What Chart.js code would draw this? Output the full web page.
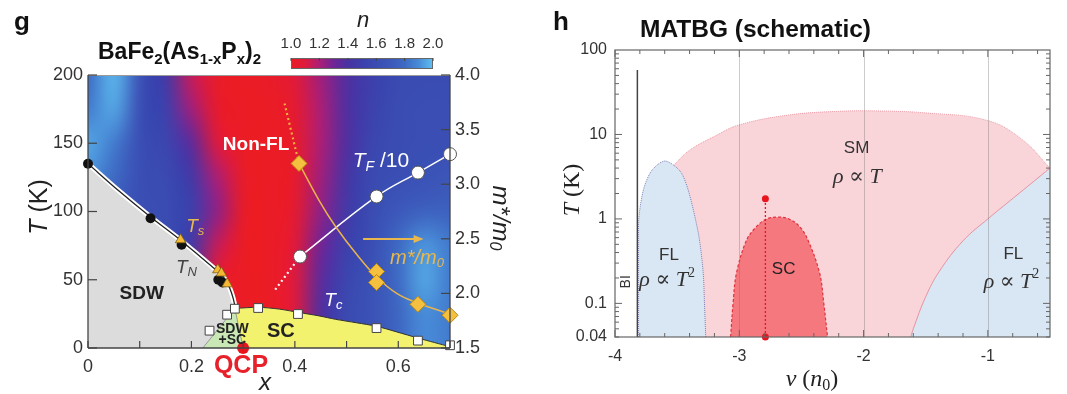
<!DOCTYPE html>
<html><head><meta charset="utf-8">
<script src="https://cdn.jsdelivr.net/npm/chart.js@4.4.0/dist/chart.umd.min.js"></script>
<style>
html,body{margin:0;padding:0;background:#fff;}
#wrap{position:relative;width:1067px;height:394px;overflow:hidden;background:#fff;}
canvas{position:absolute;top:0;}
#g{left:0;} #h{left:540px;}
</style></head><body>
<div id="wrap"><canvas id="g" width="540" height="394"></canvas><canvas id="h" width="527" height="394"></canvas></div>
<script>
// ================= Panel g : BaFe2(As1-xPx)2 =================
const heatX = [0,0.05,0.1,0.15,0.2,0.25,0.3,0.35,0.4,0.45,0.5,0.55,0.6,0.65,0.7];
const heatT = [0,25,50,75,100,125,150,175,200];
const heatN0   = [1.70,1.70,1.65,1.60,1.40,1.05,1.00,1.00,1.10,1.38,1.58,1.65,1.78,1.90,1.85];
const heatN25  = [1.70,1.70,1.65,1.60,1.40,1.05,1.00,1.00,1.10,1.38,1.58,1.65,1.78,1.90,1.85];
const heatN50  = [1.70,1.70,1.65,1.60,1.35,1.05,1.00,1.00,1.10,1.35,1.55,1.65,1.80,1.95,1.85];
const heatN75  = [1.70,1.70,1.65,1.60,1.45,1.15,1.00,1.00,1.08,1.30,1.50,1.62,1.80,1.92,1.85];
const heatN100 = [1.70,1.70,1.62,1.60,1.50,1.25,1.02,1.00,1.05,1.25,1.45,1.60,1.70,1.75,1.75];
const heatN125 = [1.90,1.80,1.62,1.58,1.45,1.20,1.02,1.00,1.03,1.22,1.42,1.58,1.62,1.65,1.68];
const heatN150 = [1.95,1.85,1.62,1.55,1.35,1.10,1.00,1.00,1.03,1.20,1.38,1.55,1.60,1.62,1.62];
const heatN175 = [1.85,1.95,1.62,1.50,1.22,1.03,1.00,1.00,1.05,1.20,1.38,1.52,1.60,1.62,1.62];
const heatN200 = [1.80,1.98,1.65,1.45,1.15,1.02,1.00,1.02,1.08,1.22,1.38,1.50,1.58,1.60,1.60];
const heatN = [heatN0,heatN25,heatN50,heatN75,heatN100,heatN125,heatN150,heatN175,heatN200];

const tnLineX = [0,0.06,0.121,0.179,0.22,0.245,0.262,0.274,0.281,0.285];
const tnLineT = [135,115,96,79,66,58,52,44,36,29];
const tnDotX = [0,0.121,0.181,0.252,0.26];
const tnDotT = [135,95,75.6,50,48];
const tsX = [0.179,0.251,0.258,0.269];
const tsT = [79.3,57.3,54.9,47];
const tcX = [0.235,0.269,0.284,0.329,0.406,0.558,0.638,0.70];
const tcT = [12.7,24.4,28.8,29.3,24.9,14.6,5.4,2];
const scEdgeX = [0.284,0.329,0.37,0.408,0.447,0.479,0.519,0.558,0.597,0.638,0.67,0.70];
const scEdgeT = [29,29.8,28.5,26,23.5,21,18.5,15.9,11.8,7.3,4,1];
const mixX = [0.222,0.284,0.30];
const mixT = [0,29,0];
const tfX = [0.41,0.558,0.638,0.70];
const tfT = [67,111,128.5,142];
const tfDashX = [0.362,0.41];
const tfDashT = [42.7,67];
const mX = [0.408,0.558,0.558,0.638,0.70];
const mV = [3.19,2.20,2.10,1.90,1.80];
const mFitX = [0.408,0.447,0.479,0.519,0.558,0.597,0.638,0.675,0.70];
const mFitV = [3.19,2.85,2.61,2.36,2.15,2.0,1.91,1.85,1.81];
const mDashX = [0.38,0.408];
const mDashV = [3.74,3.19];
const qcpX = [0.30];
const qcpT = [0];
const xTicksG = [0,0.1,0.2,0.3,0.4,0.5,0.6,0.7];
const xLabelsG = ['0','','0.2','','0.4','','0.6',''];
const yTicksG = [0,50,100,150,200];
const y2TicksG = [1.5,2.0,2.5,3.0,3.5,4.0];
const cbarTicks = [1.0,1.2,1.4,1.6,1.8,2.0];

// ================= Panel h : MATBG (schematic) =================
const smNu = [-3.53,-3.4,-3.2,-3.0,-2.6,-2.2,-1.9,-1.5,-1.0,-0.72,-0.5];
const smT  = [4.3,6.5,9.5,13,17,18.8,19,18,14.6,8.6,4.0];
const flLNu = [-3.81,-3.81,-3.807,-3.772,-3.719,-3.665,-3.598,-3.526,-3.464,-3.411,-3.357,-3.32,-3.29,-3.28,-3.27];
const flLT  = [0.04,0.56,1.06,2.2,3.47,4.3,4.85,4.3,3.47,2.2,1.06,0.56,0.227,0.1,0.04];
const flRNu = [-1.62,-1.6,-1.5,-1.39,-1.2,-1.0,-0.75,-0.5];
const flRT  = [0.04,0.05,0.12,0.24,0.55,1.0,2.0,4.0];
const scNu = [-3.07,-3.05,-3.023,-2.942,-2.862,-2.78,-2.688,-2.6,-2.514,-2.447,-2.353,-2.32,-2.29];
const scT  = [0.04,0.1,0.227,0.56,0.81,1.0,1.05,1.0,0.81,0.56,0.227,0.1,0.04];
const tcMarkNu = [-2.79,-2.79];
const tcMarkT  = [0.04,1.73];
const biNu = [-3.82,-3.82];
const biT  = [0.04,58];
const xTicksH = [-4,-3,-2,-1];
const xLabelsH = ['-4','-3','-2','-1'];
const yTicksH = [0.04,0.1,1,10,100];
const yLabelsH = ['0.04','0.1','1','10','100'];

// ================= helpers =================
const SANS = '"Liberation Sans", Arial, Helvetica, sans-serif';
const SERIF = '"Liberation Serif", "DejaVu Serif", "Times New Roman", serif';
const pts = (xs, ys) => xs.map((x, i) => ({x: x, y: ys[i]}));
const cmapN = [1.0,1.1,1.2,1.3,1.4,1.5,1.6,1.7,1.8,1.9,2.0];
const cmapRGB = [[235,28,36],[222,26,62],[172,30,118],[112,36,150],[72,50,162],[60,64,172],[58,76,178],[60,88,186],[62,106,196],[72,140,216],[96,192,240]];
function cmap(n){
  if (n <= cmapN[0]) return cmapRGB[0];
  for (let i = 1; i < cmapN.length; i++){
    if (n <= cmapN[i]){
      const f = (n - cmapN[i-1]) / (cmapN[i] - cmapN[i-1]);
      const a = cmapRGB[i-1], b = cmapRGB[i];
      return [a[0]+(b[0]-a[0])*f, a[1]+(b[1]-a[1])*f, a[2]+(b[2]-a[2])*f];
    }
  }
  return cmapRGB[cmapRGB.length-1];
}
function runs(ctx, parts, x, y, align){
  let w = 0;
  parts.forEach(p => { ctx.font = p.f; p.w = ctx.measureText(p.t).width; w += p.w; });
  let cx = align === 'center' ? x - w/2 : (align === 'right' ? x - w : x);
  ctx.textAlign = 'left';
  parts.forEach(p => { ctx.font = p.f; if (p.c) ctx.fillStyle = p.c; ctx.fillText(p.t, cx, y + (p.dy || 0)); cx += p.w; });
}
function line(ctx, x1, y1, x2, y2){ ctx.beginPath(); ctx.moveTo(x1, y1); ctx.lineTo(x2, y2); ctx.stroke(); }

// ================= panel g plugins =================
const heatPlugin = {
  id: 'heat',
  beforeDatasetsDraw(chart){
    const {ctx, chartArea: a, scales} = chart;
    const xs = scales.x, ys = scales.y;
    const nc = heatX.length, nr = heatT.length;
    const off = document.createElement('canvas');
    off.width = nc; off.height = nr;
    const octx = off.getContext('2d');
    const img = octx.createImageData(nc, nr);
    for (let r = 0; r < nr; r++){
      const row = heatN[r];
      const ir = nr - 1 - r;
      for (let c = 0; c < nc; c++){
        const col = cmap(row[c]);
        const k = (ir * nc + c) * 4;
        img.data[k] = col[0]; img.data[k+1] = col[1]; img.data[k+2] = col[2]; img.data[k+3] = 255;
      }
    }
    octx.putImageData(img, 0, 0);
    const x0 = xs.getPixelForValue(heatX[0]), x1 = xs.getPixelForValue(heatX[nc-1]);
    const y0 = ys.getPixelForValue(heatT[nr-1]), y1 = ys.getPixelForValue(heatT[0]);
    ctx.save();
    ctx.beginPath(); ctx.rect(a.left, a.top, a.right - a.left, a.bottom - a.top); ctx.clip();
    ctx.imageSmoothingEnabled = true; ctx.imageSmoothingQuality = 'high';
    ctx.drawImage(off, 0.5, 0.5, nc - 1, nr - 1, x0, y0, x1 - x0, y1 - y0);
    ctx.restore();
  }
};

const decorG = {
  id: 'decorG',
  afterDatasetsDraw(chart){
    const {ctx, chartArea: a, scales} = chart;
    const X = v => scales.x.getPixelForValue(v);
    const Y = v => scales.y.getPixelForValue(v);
    ctx.save();
    ctx.textBaseline = 'middle';
    runs(ctx, [{t:'Non-FL', f:'bold 19px '+SANS, c:'#ffffff'}], X(0.325), Y(148.8), 'center');
    runs(ctx, [{t:'T', f:'italic 21px '+SANS, c:'#ffffff'}, {t:'F', f:'italic 14px '+SANS, dy:6}, {t:' /10', f:'21px '+SANS}], X(0.512), Y(137), 'left');
    runs(ctx, [{t:'T', f:'italic 19px '+SANS, c:'#e8b74e'}, {t:'s', f:'italic 13px '+SANS, dy:5}], X(0.19), Y(89), 'left');
    runs(ctx, [{t:'T', f:'italic 19px '+SANS, c:'#444444'}, {t:'N', f:'italic 13px '+SANS, dy:5}], X(0.17), Y(59), 'left');
    runs(ctx, [{t:'SDW', f:'bold 19px '+SANS, c:'#222222'}], X(0.104), Y(40), 'center');
    runs(ctx, [{t:'SDW', f:'bold 14px '+SANS, c:'#222222'}], X(0.279), Y(14), 'center');
    runs(ctx, [{t:'+SC', f:'bold 14px '+SANS, c:'#222222'}], X(0.279), Y(5.4), 'center');
    runs(ctx, [{t:'SC', f:'bold 20px '+SANS, c:'#222222'}], X(0.373), Y(12.2), 'center');
    runs(ctx, [{t:'T', f:'italic 19px '+SANS, c:'#ffffff'}, {t:'c', f:'italic 13px '+SANS, dy:5}], X(0.457), Y(35), 'left');
    ctx.save();
    ctx.beginPath(); ctx.rect(a.left, a.top, a.right - a.left, a.bottom - a.top); ctx.clip();
    runs(ctx, [{t:'m*/m', f:'italic 20px '+SANS, c:'#e8b74e'}, {t:'0', f:'italic 13px '+SANS, dy:5}], X(0.584), Y(65.9), 'left');
    ctx.restore();
    ctx.strokeStyle = '#e8b74e'; ctx.fillStyle = '#e8b74e'; ctx.lineWidth = 2;
    const ax1 = X(0.532), ax2 = X(0.649), ay = Y(79.8);
    line(ctx, ax1, ay, ax2 - 6, ay);
    ctx.beginPath(); ctx.moveTo(ax2, ay); ctx.lineTo(ax2 - 10, ay - 4); ctx.lineTo(ax2 - 10, ay + 4); ctx.closePath(); ctx.fill();
    ctx.strokeStyle = '#9a9a9a'; ctx.lineWidth = 1;
    line(ctx, a.left, a.top + 0.5, a.right, a.top + 0.5);
    ctx.strokeStyle = '#444'; ctx.lineWidth = 1.3;
    line(ctx, a.left, a.top, a.left, a.bottom);
    line(ctx, a.right, a.top, a.right, a.bottom);
    line(ctx, a.left, a.bottom, a.right, a.bottom);
    ctx.lineWidth = 1.2;
    yTicksG.forEach(v => line(ctx, a.left, Y(v), a.left + 9, Y(v)));
    y2TicksG.forEach(v => { const py = scales.y2.getPixelForValue(v); line(ctx, a.right - 9, py, a.right, py); });
    xTicksG.forEach(v => line(ctx, X(v), a.bottom, X(v), a.bottom - 7));
    ctx.restore();
  },
  afterDraw(chart){
    const {ctx} = chart;
    ctx.save();
    ctx.textBaseline = 'alphabetic';
    runs(ctx, [{t:'g', f:'bold 26px '+SANS, c:'#111'}], 14, 30, 'left');
    runs(ctx, [
      {t:'BaFe', f:'bold 23px '+SANS, c:'#111'}, {t:'2', f:'bold 15px '+SANS, dy:5},
      {t:'(As', f:'bold 23px '+SANS}, {t:'1-x', f:'bold 15px '+SANS, dy:5},
      {t:'P', f:'bold 23px '+SANS}, {t:'x', f:'bold 15px '+SANS, dy:5},
      {t:')', f:'bold 23px '+SANS}, {t:'2', f:'bold 15px '+SANS, dy:5}], 98, 59, 'left');
    const cx0 = 291, cx1 = 433, cy0 = 58, cy1 = 69;
    const grad = ctx.createLinearGradient(cx0, 0, cx1, 0);
    cmapN.forEach((n, i) => { const c = cmapRGB[i]; grad.addColorStop((n - 1) / 1, 'rgb(' + c[0] + ',' + c[1] + ',' + c[2] + ')'); });
    ctx.fillStyle = grad; ctx.fillRect(cx0, cy0, cx1 - cx0, cy1 - cy0);
    ctx.strokeStyle = '#666'; ctx.lineWidth = 1; ctx.strokeRect(cx0 + 0.5, cy0 + 0.5, cx1 - cx0 - 1, cy1 - cy0 - 1);
    ctx.fillStyle = '#333'; ctx.textBaseline = 'middle';
    cbarTicks.forEach(n => {
      const px = cx0 + (n - 1) * (cx1 - cx0);
      ctx.strokeStyle = '#444'; line(ctx, px, cy0, px, cy0 + 3);
      runs(ctx, [{t:n.toFixed(1), f:'15px '+SANS, c:'#333'}], px, 44, 'center');
    });
    runs(ctx, [{t:'n', f:'italic 22px '+SANS, c:'#222'}], 363, 21, 'center');
    ctx.save(); ctx.translate(40, 207); ctx.rotate(-Math.PI / 2);
    runs(ctx, [{t:'T', f:'italic 25px '+SANS, c:'#222'}, {t:' (K)', f:'25px '+SANS}], 0, 0, 'center');
    ctx.restore();
    ctx.save(); ctx.translate(500, 218); ctx.rotate(Math.PI / 2);
    runs(ctx, [{t:'m*/m', f:'italic 24px '+SANS, c:'#222'}, {t:'0', f:'italic 16px '+SANS, dy:6}], 0, 0, 'center');
    ctx.restore();
    runs(ctx, [{t:'x', f:'italic 24px '+SANS, c:'#222'}], 265, 383, 'center');
    runs(ctx, [{t:'QCP', f:'bold 25px '+SANS, c:'#e8202a'}], 241, 366, 'center');
    ctx.restore();
  }
};

const lineDS = (o) => Object.assign({pointRadius: 0, borderWidth: 1.5, fill: false, tension: 0}, o);
const ptDS = (o) => Object.assign({showLine: false, clip: false}, o);

new Chart(document.getElementById('g'), {
  type: 'line',
  data: { datasets: [
    ptDS({label:'QCP', data: pts(qcpX, qcpT), pointRadius: 6, pointBackgroundColor:'#e8141e', pointBorderWidth: 0, order: 0}),
    ptDS({label:'m*/m0', yAxisID:'y2', data: pts(mX, mV), pointStyle:'rectRot', pointRadius: 8, pointBackgroundColor:'#f5c040', pointBorderColor:'#b8860b', pointBorderWidth: 1, order: 1}),
    lineDS({label:'m* fit', yAxisID:'y2', data: pts(mFitX, mFitV), borderColor:'#e9b44c', tension: 0.4, order: 2}),
    lineDS({label:'m* dotted', yAxisID:'y2', data: pts(mDashX, mDashV), borderColor:'#f0b040', borderWidth: 2.2, borderDash:[2,3], order: 3}),
    ptDS({label:'TF/10', data: pts(tfX, tfT), pointRadius: 6.5, pointBackgroundColor:'#ffffff', pointBorderColor:'#555', pointBorderWidth: 1, order: 4}),
    lineDS({label:'TF line', data: pts(tfX, tfT), borderColor:'#ffffff', tension: 0.4, order: 5}),
    lineDS({label:'TF dotted', data: pts(tfDashX, tfDashT), borderColor:'#ffffff', borderWidth: 2.2, borderDash:[2,3], order: 6}),
    ptDS({label:'Ts', data: pts(tsX, tsT), pointStyle:'triangle', pointRadius: 6, pointBackgroundColor:'#f2b836', pointBorderColor:'#7a5a10', pointBorderWidth: 0.8, order: 7}),
    ptDS({label:'TN', data: pts(tnDotX, tnDotT), pointRadius: 5, pointBackgroundColor:'#111', pointBorderColor:'#111', pointBorderWidth: 0, order: 8}),
    ptDS({label:'Tc', data: pts(tcX, tcT), pointStyle:'rect', pointRadius: 6.2, pointBackgroundColor:'#ffffff', pointBorderColor:'#444', pointBorderWidth: 1, order: 9}),
    lineDS({label:'TN line', data: pts(tnLineX, tnLineT), borderColor:'#222', borderWidth: 1.3, cubicInterpolationMode:'monotone', order: 10}),
    lineDS({label:'TN halo', data: pts(tnLineX, tnLineT), borderColor:'#ffffff', borderWidth: 5, cubicInterpolationMode:'monotone', order: 11}),
    lineDS({label:'SDW+SC', data: pts(mixX, mixT), fill:'origin', backgroundColor:'#c9e8b5', borderColor:'#888', borderWidth: 0.8, order: 12}),
    lineDS({label:'SC', data: pts(scEdgeX, scEdgeT), fill:'origin', backgroundColor:'#f2f26e', borderColor:'#333', borderWidth: 1, tension: 0.3, order: 13}),
    lineDS({label:'SDW', data: pts(tnLineX, tnLineT), fill:'origin', backgroundColor:'#dcdcdc', borderWidth: 0, cubicInterpolationMode:'monotone', order: 14})
  ]},
  options: {
    responsive: false, animation: false, devicePixelRatio: 1,
    layout: { padding: { top: 75, left: 0, right: 0, bottom: 0 } },
    plugins: { legend: { display: false }, tooltip: { enabled: false } },
    scales: {
      x: { type:'linear', min: 0, max: 0.7,
        afterBuildTicks: s => { s.ticks = xTicksG.map(v => ({value: v})); },
        afterFit: s => { s.height = 46; },
        ticks: { callback: (v, i) => xLabelsG[i], font: { family: SANS, size: 18 }, color:'#333', padding: 8, maxRotation: 0, autoSkip: false },
        grid: { display: false, drawTicks: false }, border: { display: false } },
      y: { type:'linear', position:'left', min: 0, max: 200,
        afterBuildTicks: s => { s.ticks = yTicksG.map(v => ({value: v})); },
        afterFit: s => { s.width = 88; },
        ticks: { font: { family: SANS, size: 18 }, color:'#333', padding: 5 },
        grid: { display: false, drawTicks: false }, border: { display: false } },
      y2: { type:'linear', position:'right', min: 1.5, max: 4.0,
        afterBuildTicks: s => { s.ticks = y2TicksG.map(v => ({value: v})); },
        afterFit: s => { s.width = 90; },
        ticks: { callback: v => Number(v).toFixed(1), font: { family: SANS, size: 18 }, color:'#333', padding: 5 },
        grid: { display: false, drawTicks: false }, border: { display: false } }
    }
  },
  plugins: [heatPlugin, decorG]
});

// ================= panel h =================
const decorH = {
  id: 'decorH',
  afterDatasetsDraw(chart){
    const {ctx, chartArea: a, scales} = chart;
    const X = v => scales.x.getPixelForValue(v);
    const Y = v => scales.y.getPixelForValue(v);
    ctx.save();
    ctx.strokeStyle = 'rgba(110,110,110,0.35)'; ctx.lineWidth = 1;
    xTicksH.forEach(v => { if (v > -4) line(ctx, Math.round(X(v)) + 0.5, a.top, Math.round(X(v)) + 0.5, a.bottom); });
    ctx.strokeStyle = '#666'; ctx.lineWidth = 1.2;
    ctx.strokeRect(a.left, a.top, a.right - a.left, a.bottom - a.top);
    ctx.lineWidth = 1;
    for (let k = 0; k <= 17; k++){
      const v = -4 + k * 0.2;
      const major = Math.abs(v - Math.round(v)) < 1e-6;
      const L = major ? 7 : 4;
      line(ctx, X(v), a.bottom, X(v), a.bottom - L);
      line(ctx, X(v), a.top, X(v), a.top + L);
    }
    [0.01,0.1,1,10].forEach(d => {
      for (let m = 1; m <= 9; m++){
        const v = m * d;
        if (v < 0.04 || v > 100) continue;
        const L = (m === 1) ? 7 : 4;
        line(ctx, a.left, Y(v), a.left + L, Y(v));
        line(ctx, a.right, Y(v), a.right - L, Y(v));
      }
    });
    ctx.textBaseline = 'middle';
    runs(ctx, [{t:'SM', f:'17px '+SANS, c:'#333'}], X(-2.056), Y(6.9), 'center');
    runs(ctx, [{t:'\u03C1', f:'italic 22px '+SERIF, c:'#333'}, {t:' \u221D ', f:'22px '+SERIF}, {t:'T', f:'italic 22px '+SERIF}], X(-2.05), Y(3.1), 'center');
    runs(ctx, [{t:'FL', f:'17px '+SANS, c:'#333'}], X(-3.566), Y(0.374), 'center');
    runs(ctx, [{t:'\u03C1', f:'italic 22px '+SERIF, c:'#333'}, {t:' \u221D ', f:'22px '+SERIF}, {t:'T', f:'italic 22px '+SERIF}, {t:'2', f:'14px '+SERIF, dy:-7}], X(-3.58), Y(0.189), 'center');
    runs(ctx, [{t:'SC', f:'17px '+SANS, c:'#222'}], X(-2.643), Y(0.255), 'center');
    runs(ctx, [{t:'FL', f:'17px '+SANS, c:'#333'}], X(-0.795), Y(0.38), 'center');
    runs(ctx, [{t:'\u03C1', f:'italic 22px '+SERIF, c:'#333'}, {t:' \u221D ', f:'22px '+SERIF}, {t:'T', f:'italic 22px '+SERIF}, {t:'2', f:'14px '+SERIF, dy:-7}], X(-0.81), Y(0.18), 'center');
    ctx.save(); ctx.translate(X(-3.91), Y(0.18)); ctx.rotate(-Math.PI / 2);
    runs(ctx, [{t:'BI', f:'14px '+SANS, c:'#333'}], 0, 0, 'center');
    ctx.restore();
    ctx.restore();
  },
  afterDraw(chart){
    const {ctx} = chart;
    ctx.save();
    ctx.textBaseline = 'alphabetic';
    runs(ctx, [{t:'h', f:'bold 26px '+SANS, c:'#111'}], 13, 30, 'left');
    runs(ctx, [{t:'MATBG (schematic)', f:'bold 24.5px '+SANS, c:'#111'}], 100, 37, 'left');
    ctx.textBaseline = 'middle';
    ctx.save(); ctx.translate(33, 190); ctx.rotate(-Math.PI / 2);
    runs(ctx, [{t:'T', f:'italic 24px '+SERIF, c:'#222'}, {t:' (K)', f:'24px '+SERIF}], 0, 0, 'center');
    ctx.restore();
    runs(ctx, [{t:'\u03BD', f:'italic 24px '+SERIF, c:'#222'}, {t:' (', f:'24px '+SERIF}, {t:'n', f:'italic 24px '+SERIF}, {t:'0', f:'16px '+SERIF, dy:6}, {t:')', f:'24px '+SERIF}], 272, 380, 'center');
    ctx.restore();
  }
};

new Chart(document.getElementById('h'), {
  type: 'line',
  data: { datasets: [
    ptDS({label:'Tc marks', data: pts(tcMarkNu, tcMarkT), pointRadius: 3.5, pointBackgroundColor:'#e8141e', pointBorderWidth: 0, order: 0}),
    lineDS({label:'Tc guide', data: pts(tcMarkNu, tcMarkT), borderColor:'#e8141e', borderWidth: 1.3, borderDash:[2,2], order: 1}),
    lineDS({label:'BI', data: pts(biNu, biT), borderColor:'#444', borderWidth: 1.5, order: 2}),
    lineDS({label:'SC', data: pts(scNu, scT), fill:'start', backgroundColor:'#f5787f', borderColor:'#e0323c', borderWidth: 1.2, borderDash:[3,2], tension: 0.35, order: 3}),
    lineDS({label:'FL left', data: pts(flLNu, flLT), fill:'start', backgroundColor:'#d9e6f3', borderColor:'#7a82b6', borderWidth: 1, borderDash:[1,1], tension: 0.3, order: 4}),
    lineDS({label:'FL right', data: pts(flRNu, flRT), fill:'start', backgroundColor:'#d9e6f3', borderColor:'#e594a0', borderWidth: 1, tension: 0.4, order: 5}),
    lineDS({label:'SM', data: pts(smNu, smT), fill:'start', backgroundColor:'#f9d4d9', borderColor:'#eb9aa6', borderWidth: 1, borderDash:[1,1], tension: 0.4, order: 6})
  ]},
  options: {
    responsive: false, animation: false, devicePixelRatio: 1,
    layout: { padding: { top: 50, left: 0, right: 17, bottom: 0 } },
    plugins: { legend: { display: false }, tooltip: { enabled: false } },
    scales: {
      x: { type:'linear', min: -4, max: -0.5,
        afterBuildTicks: s => { s.ticks = xTicksH.map(v => ({value: v})); },
        afterFit: s => { s.height = 57; },
        ticks: { callback: (v, i) => xLabelsH[i], font: { family: SANS, size: 16 }, color:'#333', padding: 10, maxRotation: 0, autoSkip: false },
        grid: { display: false, drawTicks: false }, border: { display: false } },
      y: { type:'logarithmic', position:'left', min: 0.04, max: 100,
        afterBuildTicks: s => { s.ticks = yTicksH.map(v => ({value: v})); },
        afterFit: s => { s.width = 75; },
        ticks: { callback: (v, i) => yLabelsH[i], font: { family: SANS, size: 16 }, color:'#333', padding: 8, autoSkip: false },
        grid: { display: false, drawTicks: false }, border: { display: false } }
    }
  },
  plugins: [decorH]
});
</script>
</body></html>
